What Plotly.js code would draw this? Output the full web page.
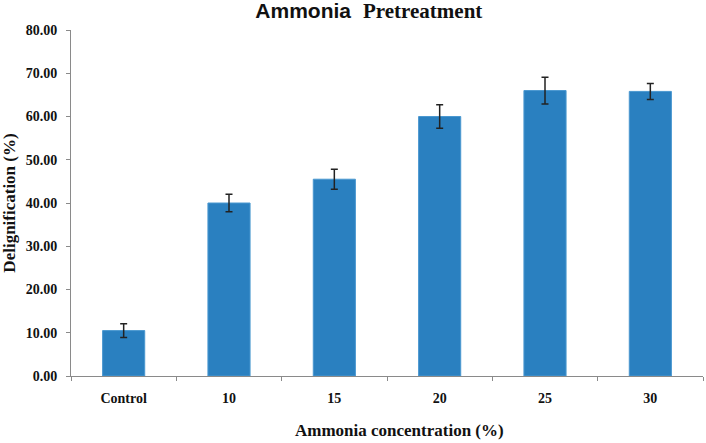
<!DOCTYPE html>
<html>
<head>
<meta charset="utf-8">
<script src="https://cdn.plot.ly/plotly-3.0.1.min.js"></script>
<style>html,body{margin:0;padding:0;background:#fff;}#chart{width:706px;height:443px;}</style>
</head>
<body>
<div id="chart"></div>
<script>
var categories = ["Control", "10", "15", "20", "25", "30"];
var delignification = [10.5, 40.0, 45.5, 60.0, 66.0, 65.8];
var errors = [1.6, 2.0, 2.3, 2.7, 3.1, 1.85];
var yTicks = [0, 10, 20, 30, 40, 50, 60, 70, 80];
var yTickLabels = yTicks.map(function(v){ return v.toFixed(2); });
var titleWords = ["Ammonia", "Pretreatment"];

var serif = "Liberation Serif, Times New Roman, serif";
var sans = "Liberation Sans, Arial, sans-serif";
var trace = {
  type: "bar",
  x: categories,
  y: delignification,
  width: 0.4,
  marker: {color: "#2a80c0", line: {color: "#4a98d0", width: 1}},
  error_y: {type: "data", array: errors, visible: true, color: "#222", thickness: 1.5, width: 3.5}
};

var layout = {
  width: 706, height: 443,
  margin: {l: 71, r: 3, t: 30, b: 67},
  paper_bgcolor: "#fff", plot_bgcolor: "#fff",
  showlegend: false,
  title: {
    text: titleWords[0],
    font: {size: 21, color: "#111", weight: "bold", family: sans},
    x: 351 / 706, xanchor: "right", y: 1 - 11 / 443, yanchor: "middle"
  },
  annotations: [{
    text: titleWords[1],
    xref: "paper", yref: "paper", x: (361 - 71) / 632, y: 1 + (30 - 11) / 346,
    xanchor: "left", yanchor: "middle", showarrow: false,
    font: {family: serif, size: 21, color: "#111", weight: "bold"}
  }, {
    text: "Ammonia concentration (%)",
    xref: "paper", yref: "paper", x: (399 - 71) / 632, y: -(430 - 376) / 346,
    xanchor: "center", yanchor: "middle", showarrow: false,
    font: {family: serif, size: 17, color: "#111", weight: "bold"}
  }],
  xaxis: {
    type: "category",
    showline: true, linecolor: "#8a8a8a", linewidth: 1,
    ticks: "outside", ticklen: 4, tickcolor: "#8a8a8a",
    tickson: "boundaries",
    ticklabelstandoff: 9,
    showgrid: false, zeroline: false,
    tickfont: {family: serif, size: 14, color: "#111", weight: "bold"}
  },
  yaxis: {
    range: [0, 80],
    tickvals: yTicks, ticktext: yTickLabels,
    showline: true, linecolor: "#8a8a8a", linewidth: 1,
    ticks: "outside", ticklen: 4, tickcolor: "#8a8a8a",
    ticklabelstandoff: 6,
    showgrid: false, zeroline: false,
    tickfont: {family: serif, size: 14, color: "#111", weight: "bold"},
    title: {text: "Delignification (%)", font: {family: serif, size: 17, color: "#111", weight: "bold"}, standoff: 6}
  }
};

Plotly.newPlot("chart", [trace], layout, {displayModeBar: false, staticPlot: true});
</script>
</body>
</html>
